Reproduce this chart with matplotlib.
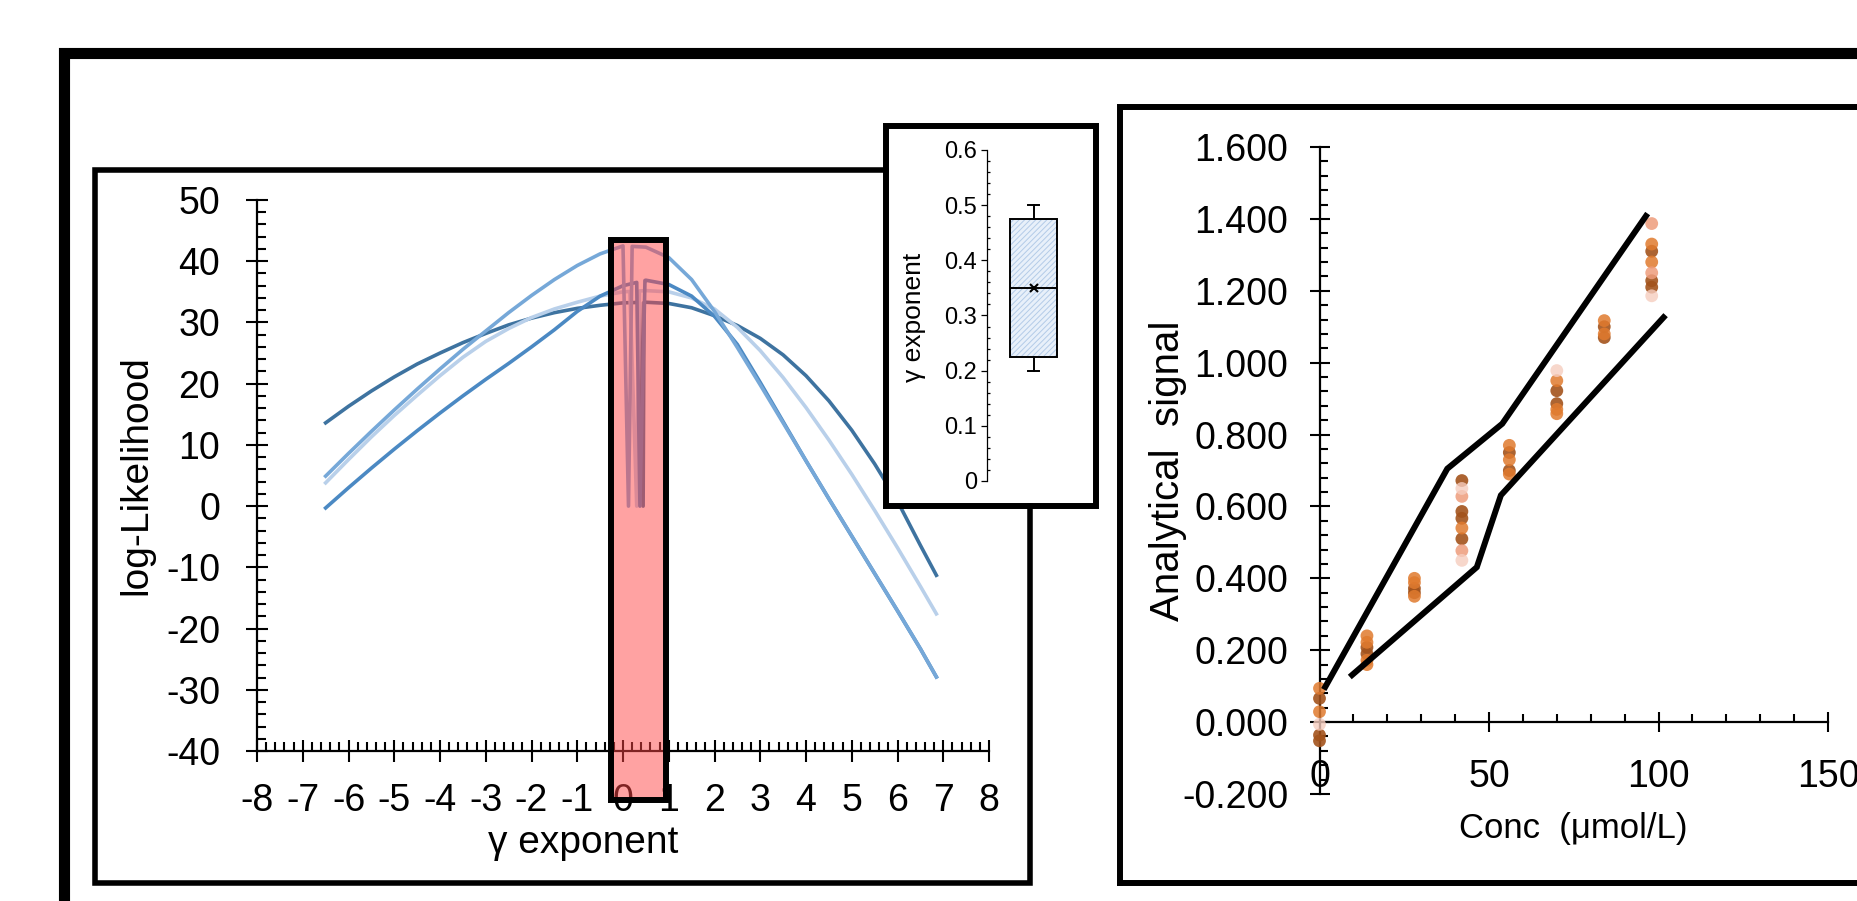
import matplotlib
matplotlib.use("Agg")
import matplotlib.pyplot as plt
import numpy as np
from matplotlib import font_manager as fm
from matplotlib.lines import Line2D
from matplotlib.patches import Rectangle
from matplotlib.ticker import MultipleLocator, FuncFormatter

names = {f.name for f in fm.fontManager.ttflist}
REG = 'Liberation Sans' if 'Liberation Sans' in names else 'DejaVu Sans'
NAR = 'Liberation Sans Narrow' if 'Liberation Sans Narrow' in names else REG
HAS_NAR = NAR != REG
plt.rcParams['font.family'] = [REG, 'DejaVu Sans']
plt.rcParams['axes.unicode_minus'] = False

# ---------------- data: log-likelihood profiles ----------------
gamma_grid = [-6.5, -6.0, -5.5, -5.0, -4.5, -4.0, -3.5, -3.0, -2.5, -2.0, -1.5, -1.0,
              -0.5, 0.0, 0.5, 1.0, 1.5, 2.0, 2.5, 3.0, 3.5, 4.0, 4.5, 5.0, 5.5, 6.0,
              6.5, 6.85]
ll_dark = [13.6, 16.3, 18.8, 21.1, 23.2, 25.0, 26.7, 28.2, 29.6, 30.7, 31.6, 32.3,
           32.8, 33.2, 33.3, 33.1, 32.4, 31.1, 29.5, 27.4, 24.7, 21.3, 17.2, 12.4,
           6.9, 0.8, -6.4, -11.3]
ll_top = [4.9, 8.6, 12.2, 15.7, 19.1, 22.4, 25.6, 28.6, 31.6, 34.4, 37.0, 39.3,
          41.2, 42.5, 42.3, 40.6, 37.0, 31.8, 25.9, 19.8, 13.6, 7.4, 1.2, -4.9,
          -11.0, -17.1, -23.3, -27.9]
ll_blue = [-0.3, 3.0, 6.2, 9.3, 12.3, 15.2, 18.0, 20.7, 23.3, 26.0, 28.8, 31.8,
           34.3, 36.0, 36.9, 36.2, 34.3, 31.0, 26.4, 20.2, 13.8, 7.4, 1.2, -4.9,
           -11.0, -17.1, -23.3, -27.9]
ll_light = [3.8, 7.6, 11.3, 14.8, 18.1, 21.3, 24.3, 26.9, 29.0, 30.8, 32.2, 33.3,
            34.3, 35.0, 35.2, 35.0, 34.0, 32.2, 29.2, 25.4, 21.0, 16.1, 10.8, 5.2,
            -0.7, -6.8, -13.1, -17.6]
# narrow dips to zero inside the highlighted window: (gamma start, gamma at 0, gamma end)
dip_top = (0.00, 0.12, 0.20)
dip_light = (0.15, 0.30, 0.36)
dip_blue = (0.30, 0.37, 0.48)
dip_dark = (0.36, 0.44, 0.46)
window = (-0.26, 0.94)          # highlighted gamma range
window_ll = (-48.0, 43.5)

# ---------------- data: box plot of gamma ----------------
gamma_stats = dict(whislo=0.20, q1=0.225, med=0.35, q3=0.475, whishi=0.50, mean=0.35)

# ---------------- data: calibration ----------------
conc = [0]*6 + [14]*6 + [28]*5 + [42]*9 + [56]*5 + [70]*6 + [84]*4 + [98]*8
signal = [0.094, 0.066, 0.029, -0.006, -0.036, -0.052,
          0.240, 0.222, 0.208, 0.190, 0.172, 0.160,
          0.400, 0.388, 0.372, 0.360, 0.350,
          0.672, 0.650, 0.628, 0.586, 0.567, 0.540, 0.510, 0.477, 0.450,
          0.770, 0.750, 0.730, 0.700, 0.690,
          0.978, 0.950, 0.922, 0.886, 0.870, 0.858,
          1.117, 1.100, 1.080, 1.070,
          1.387, 1.330, 1.310, 1.280, 1.250, 1.228, 1.210, 1.186]
shade = [1, 0, 1, 3, 0, 0,
         1, 1, 0, 0, 1, 1,
         1, 1, 0, 0, 1,
         0, 3, 2, 0, 0, 1, 0, 2, 3,
         1, 0, 1, 0, 1,
         3, 1, 0, 0, 1, 1,
         1, 0, 1, 0,
         2, 1, 0, 1, 2, 0, 0, 3]
upper_conc = [1.7, 37.7, 53.9, 96.3]
upper_sig = [0.098, 0.705, 0.830, 1.408]
lower_conc = [9.6, 46.4, 53.5, 101.5]
lower_sig = [0.131, 0.431, 0.631, 1.126]

shade_colors = ['#a3531c', '#e07a2e', '#ee9c7c', '#f6cdbf']

W, H = 1857, 901
fig = plt.figure(figsize=(W/100, H/100), dpi=100)

def fx(px):
    return px / W

def fy(py):
    return 1 - py / H

# ---------------- left panel ----------------
axL = fig.add_axes([fx(257), fy(751), fx(989) - fx(257), fy(200) - fy(751)], zorder=1)
axL.set_xlim(-8, 8)
axL.set_ylim(-40, 50)
for s in ['top', 'right']:
    axL.spines[s].set_visible(False)
for s in ['left', 'bottom']:
    axL.spines[s].set_linewidth(1.6)

curve_specs = [(ll_dark, dip_dark, '#3e73a0'), (ll_light, dip_light, '#b9d0ea'),
               (ll_blue, dip_blue, '#4b89c3'), (ll_top, dip_top, '#76a8d8')]
for vals, dip, col in curve_specs:
    g = np.array(gamma_grid, float)
    v = np.array(vals, float)
    y_a = np.interp(dip[0], g, v)
    y_c = np.interp(dip[2], g, v)
    keep_l = g < dip[0]
    keep_r = g > dip[2]
    gx = np.concatenate([g[keep_l], [dip[0], dip[1], dip[2]], g[keep_r]])
    gy = np.concatenate([v[keep_l], [y_a, 0.0, y_c], v[keep_r]])
    axL.plot(gx, gy, color=col, lw=2.6, zorder=2, solid_joinstyle='round')

axL.add_patch(Rectangle((window[0], window_ll[0]), window[1] - window[0],
                        window_ll[1] - window_ll[0], facecolor='#ff4646', alpha=0.5,
                        edgecolor='none', zorder=4, clip_on=False))
axL.add_patch(Rectangle((window[0], window_ll[0]), window[1] - window[0],
                        window_ll[1] - window_ll[0], facecolor='none',
                        edgecolor='black', lw=4.3, zorder=5, clip_on=False))

axL.xaxis.set_major_locator(MultipleLocator(1))
axL.xaxis.set_minor_locator(MultipleLocator(0.2))
axL.yaxis.set_major_locator(MultipleLocator(10))
axL.yaxis.set_minor_locator(MultipleLocator(2))
axL.tick_params(axis='both', which='major', direction='inout', length=15.8, width=1.5,
                labelsize=27)
axL.tick_params(axis='both', which='minor', direction='in', length=6.5, width=1.5)
axL.tick_params(axis='x', which='major', pad=15)
axL.tick_params(axis='y', which='major', pad=18.5)
axL.set_xticks(range(-8, 9))
axL.set_xticklabels([str(i) for i in range(-8, 9)])
axL.set_ylabel('log-Likelihood', fontsize=28)
axL.yaxis.set_label_coords(-0.165, 0.5)
axL.set_xlabel('\u03b3 exponent', fontsize=28)
axL.xaxis.set_label_coords(0.445, -0.167)
axL.xaxis.label.set_va('center')
axL.yaxis.label.set_va('center')

# ---------------- frames overlay ----------------
axF = fig.add_axes([0, 0, 1, 1], zorder=2)
axF.set_xlim(0, W)
axF.set_ylim(H, 0)
axF.axis('off')
axF.patch.set_alpha(0)

def seg(xs, ys, lw):
    axF.add_line(Line2D(xs, ys, color='black', lw=lw, solid_capstyle='projecting',
                        solid_joinstyle='miter'))

seg([63.5, 63.5, 1870], [910, 52.5, 52.5], 8.0)           # outer frame
seg([886, 94.5, 94.5, 1030, 1030], [169.5, 169.5, 882.5, 882.5, 506], 4.0)  # left panel
axF.add_patch(Rectangle((886, 125.5), 1096 - 886, 506 - 125.5, facecolor='white',
                        edgecolor='black', lw=4.3))       # inset frame
seg([1119.5, 1119.5, 1870], [882.5, 106.5, 106.5], 4.3)  # right panel
seg([1119.5, 1870], [882.5, 882.5], 4.3)

# ---------------- inset box plot ----------------
axI = fig.add_axes([fx(987), fy(481), fx(1080) - fx(987), fy(150) - fy(481)], zorder=3)
axI.patch.set_alpha(0)
axI.set_ylim(0, 0.6)
for s in ['top', 'right', 'bottom']:
    axI.spines[s].set_visible(False)
axI.spines['left'].set_linewidth(0.9)
stat = dict(gamma_stats)
stat['fliers'] = []
plt.rcParams['hatch.linewidth'] = 0.7
axI.bxp([stat], positions=[1], widths=0.5, capwidths=0.11, showmeans=True,
        patch_artist=True, showfliers=False,
        boxprops=dict(facecolor='#e8f0fa', edgecolor='#b3cbe8', hatch='//////', lw=0),
        whiskerprops=dict(lw=0), capprops=dict(lw=0), medianprops=dict(lw=0),
        meanprops=dict(marker='x', markersize=0))
axI.bxp([stat], positions=[1], widths=0.5, capwidths=0.11, showmeans=True,
        patch_artist=True, showfliers=False,
        boxprops=dict(facecolor='none', edgecolor='black', lw=1.4),
        whiskerprops=dict(color='black', lw=1.4), capprops=dict(color='black', lw=1.4),
        medianprops=dict(color='black', lw=1.4),
        meanprops=dict(marker='x', markeredgecolor='black', markersize=6, mew=1.5))
axI.set_xlim(0.5, 1.5)
axI.set_xticks([])
axI.yaxis.set_major_locator(MultipleLocator(0.1))
axI.yaxis.set_minor_locator(MultipleLocator(0.02))
axI.yaxis.set_major_formatter(FuncFormatter(lambda v, p: f'{v:g}'))
axI.tick_params(axis='y', which='major', direction='out', length=4.3, width=0.9,
                labelsize=17, pad=3)
axI.tick_params(axis='y', which='minor', direction='in', length=2.4, width=0.9)
axI.set_ylabel('\u03b3 exponent', fontsize=19)
axI.yaxis.set_label_coords(-0.79, 0.495)
axI.yaxis.label.set_va('center')

# ---------------- right panel ----------------
axR = fig.add_axes([fx(1319.5), fy(794), fx(1828) - fx(1319.5), fy(147) - fy(794)], zorder=1)
axR.patch.set_alpha(0)
axR.set_xlim(0, 150)
axR.set_ylim(-0.2, 1.6)
for s in ['top', 'right']:
    axR.spines[s].set_visible(False)
axR.spines['bottom'].set_position(('data', 0))
for s in ['left', 'bottom']:
    axR.spines[s].set_linewidth(1.6)

alphas = [0.9, 0.85, 0.85, 0.8]
for k in range(4):
    xs = [c for c, s in zip(conc, shade) if s == k]
    ys = [v for v, s in zip(signal, shade) if s == k]
    axR.scatter(xs, ys, s=85, color=shade_colors[k], alpha=alphas[k], edgecolors='none',
                zorder=3, clip_on=False)
axR.plot(upper_conc, upper_sig, color='black', lw=4.3, zorder=4, solid_joinstyle='miter')
axR.plot(lower_conc, lower_sig, color='black', lw=4.3, zorder=4, solid_joinstyle='miter')

axR.xaxis.set_major_locator(MultipleLocator(50))
axR.xaxis.set_minor_locator(MultipleLocator(10))
axR.yaxis.set_major_locator(MultipleLocator(0.2))
axR.yaxis.set_minor_locator(MultipleLocator(0.04))
axR.yaxis.set_major_formatter(FuncFormatter(lambda v, p: f'{v:.3f}'))
axR.tick_params(axis='x', which='major', direction='inout', length=14.4, width=1.5,
                pad=19.4)
axR.tick_params(axis='y', which='major', direction='inout', length=13.7, width=1.5,
                pad=15.5)
axR.tick_params(axis='both', which='minor', direction='in', length=5.5, width=1.5)
tick_fs = 28 if HAS_NAR else 27
for lab in axR.get_xticklabels() + axR.get_yticklabels():
    lab.set_fontfamily(NAR)
    lab.set_fontsize(tick_fs)
axR.set_ylabel('Analytical  signal', fontsize=29)
axR.yaxis.set_label_coords(-0.298, 0.499)
axR.yaxis.label.set_va('center')
axR.set_xlabel('Conc  (\u03bcmol/L)', fontsize=26 if HAS_NAR else 25, fontfamily=NAR)
axR.xaxis.set_label_coords(0.4985, -0.0526)
axR.xaxis.label.set_va('center')

fig.savefig('out.png', dpi=100)
